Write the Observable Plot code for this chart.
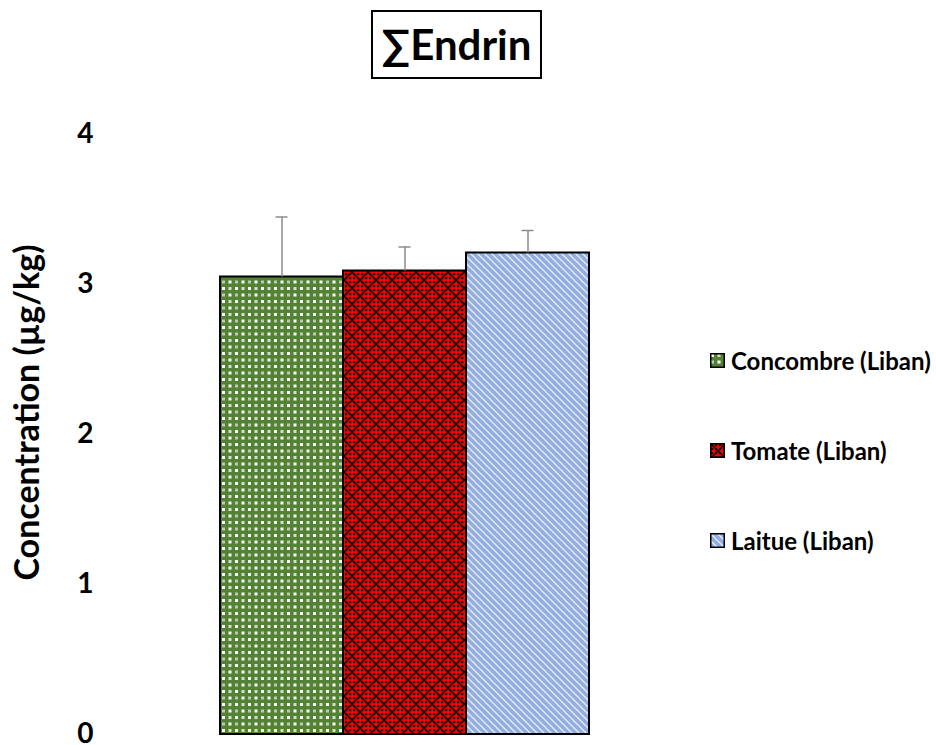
<!DOCTYPE html>
<html>
<head>
<meta charset="utf-8">
<script src="https://cdn.jsdelivr.net/npm/d3@7"></script>
<script src="https://cdn.jsdelivr.net/npm/@observablehq/plot@0.6"></script>
<style>
  html, body { margin: 0; padding: 0; background: #fff; }
  #wrap { position: relative; width: 936px; height: 745px; overflow: hidden; font-family: Lato, "Open Sans", sans-serif; }
  #title { position: absolute; left: 371px; top: 10px; width: 167px; height: 65px; border: 2px solid #000;
           font-weight: bold; font-size: 42px; line-height: 65px; text-align: center; color: #000; }
  .leg { position: absolute; left: 710px; height: 16px; display: flex; align-items: center;
         font-weight: bold; font-size: 24px; color: #000; white-space: nowrap; }
  .leg svg { margin-right: 6px; flex: none; }
</style>
</head>
<body>
<div id="wrap">
<svg width="0" height="0" style="position:absolute">
  <defs>
    <pattern id="pGreen" patternUnits="userSpaceOnUse" width="13" height="13">
      <rect width="13" height="13" fill="#548235"/>
      <rect x="1" y="1" width="3" height="3" fill="#fff"/>
      <rect x="7.5" y="1" width="3" height="3" fill="#fff" opacity="0.75"/>
      <rect x="1" y="7.5" width="3" height="3" fill="#fff" opacity="0.6"/>
      <rect x="7.5" y="7.5" width="3" height="3" fill="#fff"/>
    </pattern>
    <pattern id="pRed" patternUnits="userSpaceOnUse" width="16" height="16">
      <rect width="16" height="16" fill="#ff0000"/>
      <g fill="#000">
        <rect x="1" y="1" width="2.2" height="2.2"/><rect x="5" y="1" width="2.2" height="2.2"/><rect x="9" y="1" width="2.2" height="2.2"/><rect x="13" y="1" width="2.2" height="2.2"/>
        <rect x="1" y="5" width="2.2" height="2.2"/><rect x="5" y="5" width="2.2" height="2.2"/><rect x="9" y="5" width="2.2" height="2.2"/><rect x="13" y="5" width="2.2" height="2.2"/>
        <rect x="1" y="9" width="2.2" height="2.2"/><rect x="5" y="9" width="2.2" height="2.2"/><rect x="9" y="9" width="2.2" height="2.2"/><rect x="13" y="9" width="2.2" height="2.2"/>
        <rect x="1" y="13" width="2.2" height="2.2"/><rect x="5" y="13" width="2.2" height="2.2"/><rect x="9" y="13" width="2.2" height="2.2"/><rect x="13" y="13" width="2.2" height="2.2"/>
      </g>
      <path d="M0 0L16 16M16 0L0 16" stroke="#000" stroke-width="1.3"/>
    </pattern>
    <pattern id="pBlue" patternUnits="userSpaceOnUse" width="7" height="7">
      <rect width="7" height="7" fill="#92addf"/>
      <path d="M-1 -1L8 8M-4.5 2.5L4.5 11.5M2.5 -4.5L11.5 4.5" stroke="#fff" stroke-width="1.3" opacity="0.8"/>
    </pattern>
  </defs>
</svg>
<div id="title">∑Endrin</div>
<div id="chart"></div>
<div id="legend"></div>
</div>
<script>
const categories = ["Concombre (Liban)", "Tomate (Liban)", "Laitue (Liban)"];
const values = [3.05, 3.09, 3.21];
const errors = [0.40, 0.16, 0.15];
const patterns = ["url(#pGreen)", "url(#pRed)", "url(#pBlue)"];
const yTicks = [0, 1, 2, 3, 4];
const yLabel = "Concentration (µg/kg)";

const data = categories.map((c, i) => ({cat: c, value: values[i], err: errors[i]}));

const chart = Plot.plot({
  width: 936,
  height: 745,
  marginTop: 134,
  marginBottom: 11,
  marginLeft: 219,
  marginRight: 347,
  style: {fontFamily: "Lato, 'Open Sans', sans-serif", fontSize: "28px", fontWeight: "bold", color: "#000", background: "transparent"},
  x: {domain: categories, padding: 0, axis: null},
  y: {domain: [0, 4], axis: null},
  color: {domain: categories, range: patterns},
  marks: [
    Plot.axisY({ticks: yTicks, tickSize: 0, tickPadding: 126, label: null, tickFormat: d => String(d)}),
    Plot.barY(data, {x: "cat", y: "value", fill: "cat", stroke: "#000", strokeWidth: 2}),
    Plot.ruleX(data, {x: "cat", y1: "value", y2: d => d.value + d.err, stroke: "#8c8c8c", strokeWidth: 1.5}),
    Plot.tickY(data, {x: "cat", y: d => d.value + d.err, stroke: "#8c8c8c", strokeWidth: 1.5, insetLeft: 55.5, insetRight: 55.5}),
    Plot.text([yLabel], {frameAnchor: "left", textAnchor: "middle", rotate: -90, dx: -191, dy: -22, fontSize: 34, fontWeight: "bold", fill: "#000"})
  ]
});
document.getElementById("chart").appendChild(chart);

const legend = document.getElementById("legend");
const legendY = [352, 442, 532];
categories.forEach((c, i) => {
  const d = document.createElement("div");
  d.className = "leg";
  d.style.top = legendY[i] + "px";
  d.innerHTML = `<svg width="15" height="15"><rect x="0.75" y="0.75" width="13.5" height="13.5" fill="${patterns[i]}" stroke="#000" stroke-width="1.5"/></svg><span>${c}</span>`;
  legend.appendChild(d);
});
</script>
</body>
</html>
